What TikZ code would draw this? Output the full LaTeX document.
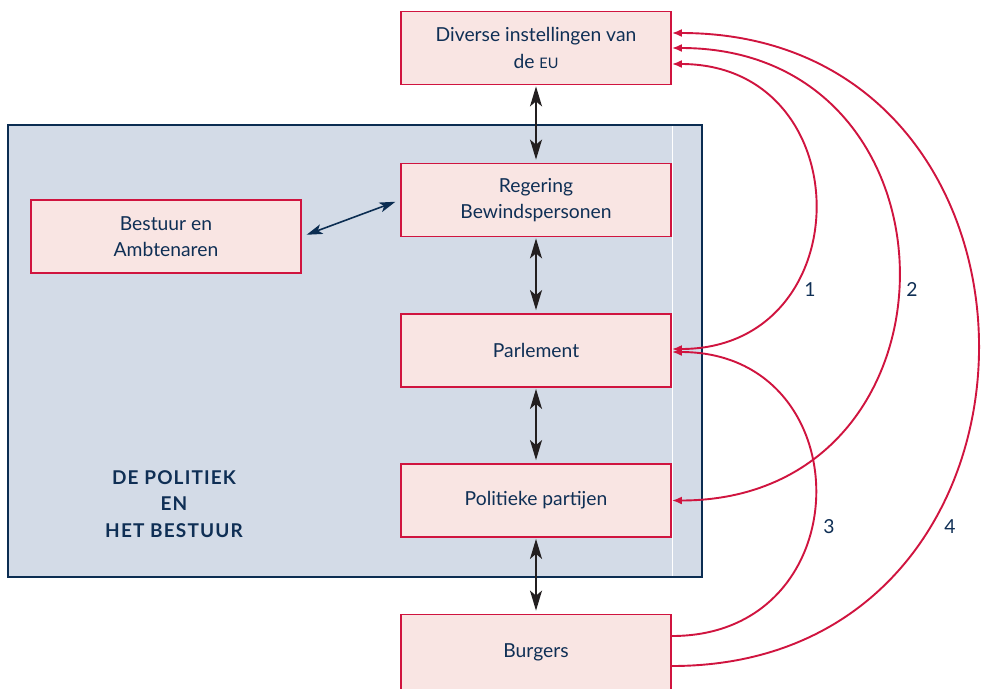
\documentclass[tikz,border=0pt]{standalone}
\usepackage{fontspec}
\setmainfont{Lato}
\usetikzlibrary{arrows.meta,calc}
\definecolor{navy}{HTML}{0F2F55}
\definecolor{crim}{HTML}{D0143F}
\definecolor{boxfill}{HTML}{F9E5E3}
\definecolor{bluefill}{HTML}{D3DBE7}
\definecolor{blueline}{HTML}{0B2D52}
\definecolor{arrblack}{HTML}{231F20}
\begin{document}
\begin{tikzpicture}[x=1pt,y=-1pt,
  box/.style={draw=crim,fill=boxfill,line width=1.8pt,minimum width=270pt,minimum height=73pt,
    align=center,text=navy,font=\fontsize{19.3}{26.5}\selectfont,inner sep=0pt},
  link/.style={draw=arrblack,line width=1.6pt,
    {Stealth[length=20pt,width=12pt,inset=5pt]}-{Stealth[length=20pt,width=12pt,inset=5pt]},
    shorten >=3pt,shorten <=1pt},
  navylink/.style={draw=blueline,line width=1.6pt,
    {Stealth[length=16pt,width=10pt,inset=4pt]}-{Stealth[length=16pt,width=10pt,inset=4pt]},
    shorten >=5pt,shorten <=5pt},
  relation/.style={draw=crim,line width=1.9pt},
  rtip/.tip={Latex[length=10pt,width=8pt]},
  lab/.style={text=navy,font=\fontsize{19.3}{22}\selectfont,inner sep=0pt}
  ]
\useasboundingbox (0,0) rectangle (981,688);
\fill[white] (0,0) rectangle (981,688);
\draw[fill=bluefill,draw=blueline,line width=1.8pt] (8,125) rectangle (702,577);
\draw[white,line width=0.8pt] (672.8,126) -- (672.8,576);

\node[box] (eu)  at (536,48)    {Diverse instellingen van\\de {\fontsize{14.5}{26}\selectfont EU}};
\node[box] (reg) at (536,200)   {Regering\\Bewindspersonen};
\node[box] (bes) at (166,236.5) {Bestuur en\\Ambtenaren};
\node[box] (par) at (536,350.5) {Parlement};
\node[box] (pol) at (536,500.5) {Politieke partijen};
\node[box,minimum height=75pt] (bur) at (536,652) {Burgers};

\node[text=navy,font=\fontsize{19}{26.5}\selectfont\bfseries\addfontfeature{LetterSpace=6},align=center,inner sep=0pt]
  (title) at (174,504) {DE POLITIEK\\EN\\HET BESTUUR};

\draw[link] (eu.south)  -- (reg.north);
\draw[link] (reg.south) -- (par.north);
\draw[link] (par.south) -- (pol.north);
\draw[link] (pol.south) -- (bur.north);
\draw[navylink] (bes.east) -- (reg.west);

\draw[relation,rtip-rtip] ($(eu.east)+(0,16)$) .. controls +(190,0) and +(190,0) .. ($(par.east)+(0,-1.5)$);
\draw[relation,rtip-rtip] (eu.east) .. controls +(301,0) and +(301,0) .. (pol.east);
\draw[relation,-rtip] ($(bur.east)+(0,-16)$) .. controls +(191,0) and +(191,0) .. ($(par.east)+(0,1.5)$);
\draw[relation,-rtip] ($(bur.east)+(0,14)$) .. controls +(408,0) and +(408,0) .. ($(eu.east)+(0,-15)$);

\node[lab] (l1) at (810,290) {1};
\node[lab] (l2) at (912,290) {2};
\node[lab] (l3) at (829,527) {3};
\node[lab] (l4) at (950,527) {4};
\end{tikzpicture}
\end{document}
